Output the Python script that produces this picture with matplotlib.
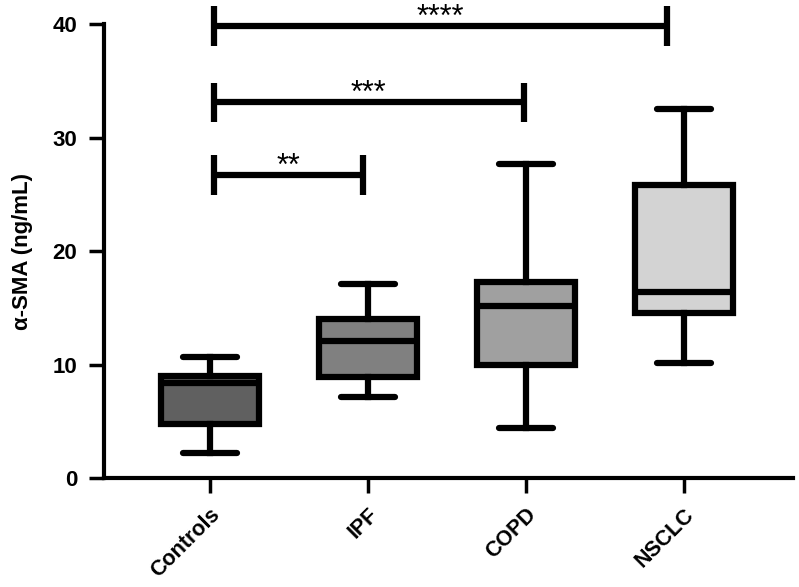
import matplotlib
matplotlib.use("Agg")
import matplotlib.pyplot as plt

groups = ["Controls", "IPF", "COPD", "NSCLC"]
whislo = [2.2, 7.1, 4.4, 10.1]
q1 = [4.8, 8.9, 10.0, 14.5]
med = [8.4, 12.1, 15.2, 16.4]
q3 = [9.0, 14.0, 17.3, 25.8]
whishi = [10.7, 17.1, 27.7, 32.5]
fills = ["#606060", "#808080", "#a0a0a0", "#d3d3d3"]

# significance brackets: (left x, right x, y, label)
brk_x0 = [0.025, 0.025, 0.025]
brk_x1 = [0.968, 1.987, 2.89]
brk_y = [26.7, 33.1, 39.8]
brk_lab = ["**", "***", "****"]

plt.rcParams["font.family"] = ["Liberation Sans", "DejaVu Sans"]

fig = plt.figure(figsize=(7.99, 5.87), dpi=100)
ax = fig.add_axes([0.130, 0.1857, 0.8625, 0.7733])

lw = 4.5
stats = [dict(whislo=a, q1=b, med=c, q3=d, whishi=e, label=g)
         for a, b, c, d, e, g in zip(whislo, q1, med, q3, whishi, groups)]
bp = ax.bxp(stats, positions=range(len(groups)), widths=0.62, patch_artist=True,
            showfliers=False, capwidths=0.34,
            boxprops=dict(linewidth=lw, edgecolor="black"),
            medianprops=dict(linewidth=lw, color="black"),
            whiskerprops=dict(linewidth=lw, color="black"),
            capprops=dict(linewidth=lw, color="black", solid_capstyle="round"))
for patch, c in zip(bp["boxes"], fills):
    patch.set_facecolor(c)
    patch.set_joinstyle("miter")

for x0, x1, y, lab in zip(brk_x0, brk_x1, brk_y, brk_lab):
    ax.plot([x0, x1], [y, y], color="black", lw=lw, clip_on=False, solid_capstyle="butt")
    for xx in (x0, x1):
        ax.plot([xx, xx], [y - 1.75, y + 1.75], color="black", lw=lw, clip_on=False,
                solid_capstyle="butt")
    ax.text((x0 + x1) / 2, y + 0.05, lab, ha="center", va="baseline", fontsize=22,
            clip_on=False)

ax.set_xlim(-0.67, 3.69)
ax.set_ylim(0, 40)
ax.set_yticks([0, 10, 20, 30, 40])
ax.set_xticks(range(len(groups)))
ax.set_xticklabels(groups, rotation=45, ha="right", rotation_mode="anchor",
                   fontsize=15.5, fontweight="bold")
for t in ax.get_yticklabels():
    t.set_fontsize(16)
    t.set_fontweight("bold")

for s in ("top", "right"):
    ax.spines[s].set_visible(False)
for s in ("left", "bottom"):
    ax.spines[s].set_linewidth(3)
ax.tick_params(axis="both", length=11, width=2.5, pad=8)
ax.set_ylabel("α-SMA (ng/mL)", fontsize=16, fontweight="bold", labelpad=14)

fig.savefig("out.png", dpi=100)
